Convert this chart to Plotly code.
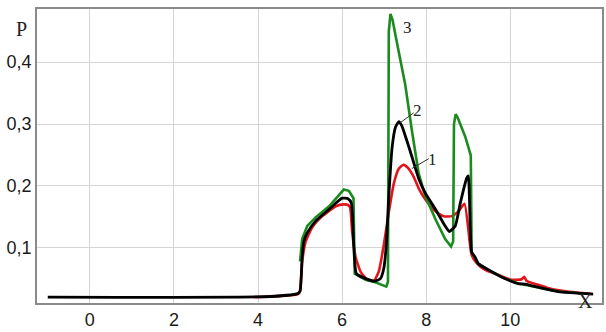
import plotly.graph_objects as go

# Curve 1 (red)
x_red = [3.9, 4.3, 4.95, 5.0, 5.05, 5.13, 5.29, 5.53, 5.85, 6.04, 6.14, 6.19, 6.24, 6.32, 6.44,
         6.60, 6.75, 6.87, 6.99, 7.11, 7.23, 7.35, 7.46, 7.58, 7.70, 7.82, 7.98, 8.22, 8.41,
         8.61, 8.77, 8.91, 9.08, 9.20, 9.40, 9.72, 10.03, 10.27, 10.33, 10.39, 10.66, 10.98,
         11.37, 11.93]
y_red = [0.020, 0.021, 0.025, 0.030, 0.077, 0.109, 0.133, 0.151, 0.167, 0.170, 0.169, 0.165,
         0.125, 0.085, 0.061, 0.048, 0.046, 0.061, 0.104, 0.157, 0.204, 0.228, 0.234, 0.228,
         0.215, 0.196, 0.178, 0.159, 0.151, 0.151, 0.159, 0.171, 0.088, 0.075, 0.064, 0.056,
         0.048, 0.049, 0.053, 0.046, 0.040, 0.033, 0.029, 0.025]

# Curve 2 (black)
x_black = [-1.0, 4.3, 4.95, 5.0, 5.05, 5.09, 5.17, 5.37, 5.69, 6.0, 6.14, 6.22, 6.28, 6.34,
           6.56, 6.79, 6.91, 6.99, 7.05, 7.11, 7.19, 7.27, 7.35, 7.42, 7.54, 7.66, 7.82, 7.98,
           8.22, 8.45, 8.55, 8.69, 8.81, 8.96, 9.00, 9.08, 9.16, 9.24, 9.56, 9.87, 10.19,
           10.35, 10.66, 11.14, 11.97]
y_black = [0.020, 0.021, 0.026, 0.030, 0.085, 0.110, 0.124, 0.143, 0.162, 0.180, 0.179, 0.172,
           0.098, 0.058, 0.050, 0.046, 0.050, 0.066, 0.104, 0.183, 0.263, 0.295, 0.304, 0.297,
           0.273, 0.247, 0.212, 0.188, 0.162, 0.135, 0.126, 0.135, 0.172, 0.212, 0.216, 0.093,
           0.085, 0.074, 0.061, 0.050, 0.042, 0.041, 0.036, 0.029, 0.025]

# Curve 3 (green)
x_green = [5.0, 5.05, 5.17, 5.37, 5.69, 5.85, 6.04, 6.16, 6.27, 6.30, 6.56, 6.79, 7.05, 7.09,
           7.11, 7.15, 7.20, 7.27, 7.50, 7.66, 7.82, 7.98, 8.22, 8.45, 8.59, 8.64, 8.66, 8.70,
           8.75, 8.93, 9.06, 9.08, 9.16, 9.24, 9.56, 9.87, 10.19, 10.66, 11.14, 11.9]
y_green = [0.078, 0.114, 0.135, 0.149, 0.167, 0.180, 0.194, 0.192, 0.180, 0.058, 0.048, 0.044,
           0.037, 0.045, 0.450, 0.478, 0.468, 0.443, 0.364, 0.289, 0.220, 0.183, 0.146, 0.114,
           0.102, 0.110, 0.300, 0.316, 0.310, 0.279, 0.249, 0.093, 0.084, 0.074, 0.061, 0.050,
           0.042, 0.036, 0.029, 0.025]

x_ticks = [0, 2, 4, 6, 8, 10]
y_ticks = [0.1, 0.2, 0.3, 0.4]
y_tick_text = ["0,1", "0,2", "0,3", "0,4"]

fig = go.Figure()
fig.add_trace(go.Scatter(x=x_red, y=y_red, mode="lines",
                         line=dict(color="#e3151b", width=2.6, shape="spline", smoothing=0.5),
                         showlegend=False))
fig.add_trace(go.Scatter(x=x_green, y=y_green, mode="lines",
                         line=dict(color="#1b8a1f", width=2.6), showlegend=False))
fig.add_trace(go.Scatter(x=x_black, y=y_black, mode="lines",
                         line=dict(color="#000000", width=2.8, shape="spline", smoothing=0.5),
                         showlegend=False))

serif = "Liberation Serif, Times New Roman, serif"
sans = "Liberation Sans, Arial, sans-serif"

annotations = [
    dict(x=7.55, y=0.456, xref="x", yref="y", text="3", showarrow=False,
         font=dict(family=serif, size=17, color="#222")),
    dict(x=7.80, y=0.322, xref="x", yref="y", text="2", showarrow=False,
         font=dict(family=serif, size=17, color="#222")),
    dict(x=8.16, y=0.243, xref="x", yref="y", text="1", showarrow=False,
         font=dict(family=serif, size=17, color="#222")),
    dict(x=-0.040, y=0.975, xref="paper", yref="paper", text="P", showarrow=False,
         font=dict(family=serif, size=20, color="#222")),
    dict(x=0.988, y=-0.036, xref="paper", yref="paper", text="X", showarrow=False,
         font=dict(family=serif, size=20, color="#222")),
]

shapes = [
    dict(type="line", xref="x", yref="y", x0=7.38, y0=0.302, x1=7.70, y1=0.318,
         line=dict(color="#333", width=1)),
    dict(type="line", xref="x", yref="y", x0=7.66, y0=0.228, x1=8.06, y1=0.244,
         line=dict(color="#333", width=1)),
]

fig.update_layout(
    width=606, height=332,
    margin=dict(l=37, r=2, t=9, b=24),
    paper_bgcolor="white", plot_bgcolor="white",
    annotations=annotations, shapes=shapes,
    xaxis=dict(range=[-1.256, 12.18], tickvals=x_ticks, showgrid=True,
               gridcolor="#d4d4d4", gridwidth=1, zeroline=False,
               showline=True, linecolor="#8a8a8a", linewidth=1.5, mirror=True,
               ticks="", tickfont=dict(family=sans, size=18, color="#1a1a1a")),
    yaxis=dict(range=[0.0105, 0.486], tickvals=y_ticks, ticktext=y_tick_text,
               showgrid=True, gridcolor="#d4d4d4", gridwidth=1, zeroline=False,
               showline=True, linecolor="#8a8a8a", linewidth=1.5, mirror=True,
               ticks="", ticklabelstandoff=0,
               tickfont=dict(family=sans, size=18, color="#1a1a1a")),
)

fig.write_html("out.html")
